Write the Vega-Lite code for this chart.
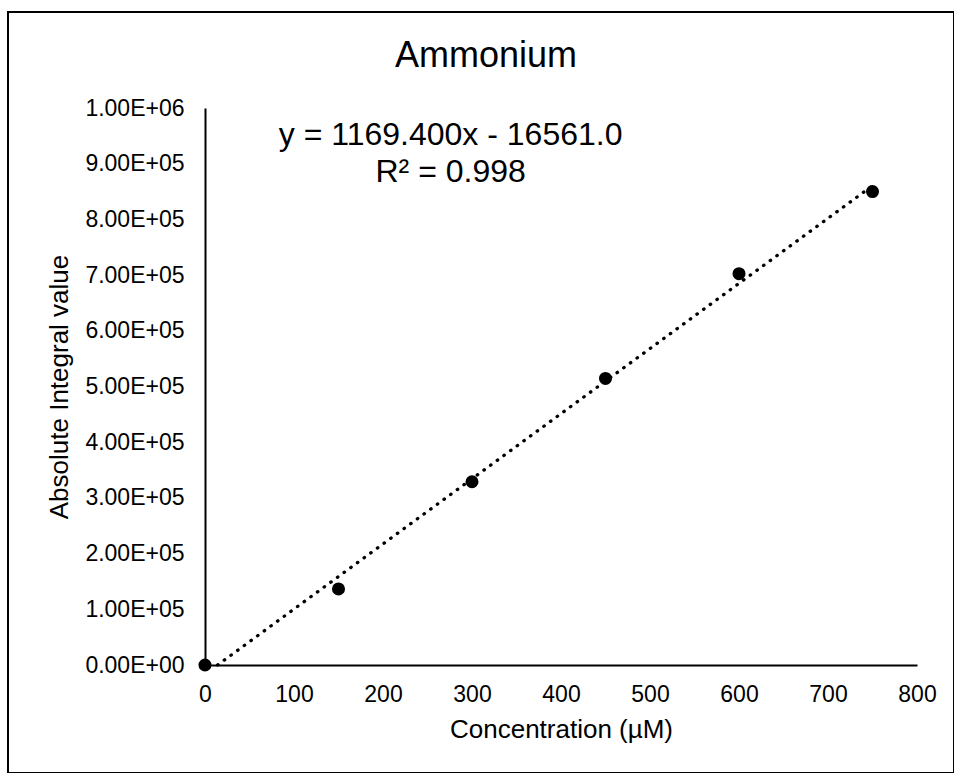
{
  "$schema": "https://vega.github.io/schema/vega-lite/v6.json",
  "autosize": {"type": "none"},
  "width": 946,
  "height": 761,
  "padding": {"left": 8, "top": 12, "right": 0, "bottom": 0},
  "background": "white",
  "config": {
    "font": "Liberation Sans",
    "view": {"stroke": "black", "strokeWidth": 2},
    "axis": {
      "grid": false,
      "ticks": false,
      "labelFlush": false,
      "domainColor": "black",
      "domainWidth": 2,
      "labelFont": "Liberation Sans",
      "labelFontSize": 23,
      "labelColor": "black",
      "titleFont": "Liberation Sans",
      "titleFontSize": 26,
      "titleFontWeight": "normal",
      "titleColor": "black"
    }
  },
  "datasets": {
    "standards": [
      {"conc": 0, "signal": 0},
      {"conc": 150, "signal": 136500},
      {"conc": 300, "signal": 329000},
      {"conc": 450, "signal": 514500},
      {"conc": 600, "signal": 702500},
      {"conc": 750, "signal": 850000}
    ],
    "fit": [
      {"conc": 14.162, "signal": 0},
      {"conc": 750, "signal": 860489}
    ]
  },
  "layer": [
    {
      "data": {"name": "fit"},
      "mark": {
        "type": "line",
        "color": "black",
        "strokeWidth": 3.3,
        "strokeCap": "round",
        "strokeDash": [0.5, 7.75]
      },
      "encoding": {
        "x": {"field": "conc", "type": "quantitative"},
        "y": {"field": "signal", "type": "quantitative"}
      }
    },
    {
      "data": {"name": "standards"},
      "mark": {"type": "point", "shape": "circle", "filled": true, "color": "black", "opacity": 1, "size": 170},
      "encoding": {
        "x": {
          "field": "conc",
          "type": "quantitative",
          "title": "Concentration (µM)",
          "scale": {"domain": [0, 800], "range": [197, 909], "nice": false, "zero": false},
          "axis": {
            "orient": "bottom",
            "offset": -108,
            "values": [0, 100, 200, 300, 400, 500, 600, 700, 800],
            "labelPadding": 18,
            "titlePadding": 10
          }
        },
        "y": {
          "field": "signal",
          "type": "quantitative",
          "title": "Absolute Integral value",
          "scale": {"domain": [0, 1000000], "range": [653, 96], "nice": false, "zero": false},
          "axis": {
            "orient": "left",
            "offset": -197,
            "values": [0, 100000, 200000, 300000, 400000, 500000, 600000, 700000, 800000, 900000, 1000000],
            "labelPadding": 21,
            "titlePadding": 12,
            "labelExpr": "datum.value == 0 ? '0.00E+00' : (datum.value >= 1000000 ? format(datum.value / 1000000, '.2f') + 'E+06' : format(datum.value / 100000, '.2f') + 'E+05')"
          }
        }
      }
    },
    {
      "data": {"values": [{"label": "Ammonium"}]},
      "mark": {
        "type": "text",
        "font": "Liberation Sans",
        "fontSize": 36,
        "color": "black",
        "align": "center",
        "baseline": "alphabetic"
      },
      "encoding": {
        "x": {"datum": 315.7, "type": "quantitative"},
        "y": {"datum": 1073600, "type": "quantitative"},
        "text": {"field": "label"}
      }
    },
    {
      "data": {"values": [{"label": "y = 1169.400x - 16561.0"}]},
      "mark": {
        "type": "text",
        "font": "Liberation Sans",
        "fontSize": 32,
        "color": "black",
        "align": "center",
        "baseline": "alphabetic"
      },
      "encoding": {
        "x": {"datum": 276, "type": "quantitative"},
        "y": {"datum": 933600, "type": "quantitative"},
        "text": {"field": "label"}
      }
    },
    {
      "data": {"values": [{"label": "R² = 0.998"}]},
      "mark": {
        "type": "text",
        "font": "Liberation Sans",
        "fontSize": 32,
        "color": "black",
        "align": "center",
        "baseline": "alphabetic"
      },
      "encoding": {
        "x": {"datum": 276, "type": "quantitative"},
        "y": {"datum": 867200, "type": "quantitative"},
        "text": {"field": "label"}
      }
    }
  ]
}
